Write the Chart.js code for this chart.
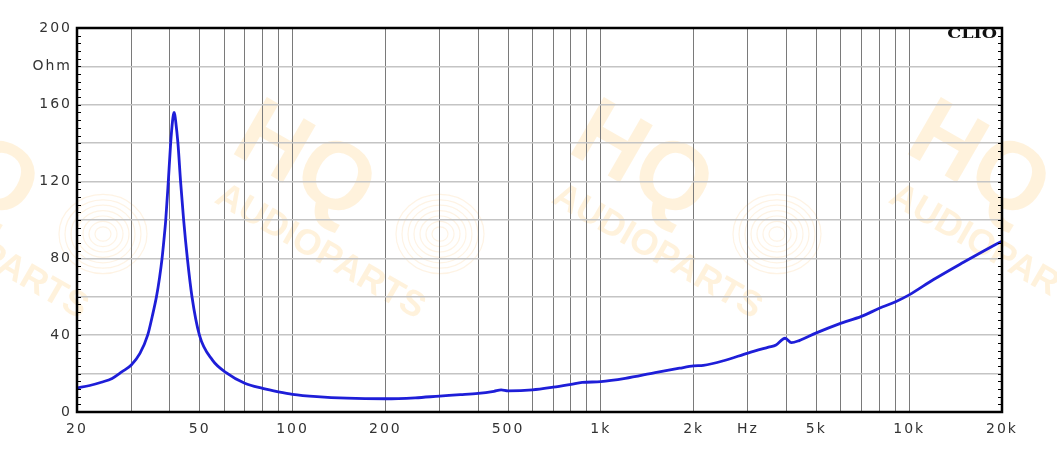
<!DOCTYPE html>
<html><head><meta charset="utf-8">
<script src="https://cdn.jsdelivr.net/npm/chart.js@4"></script>
<style>html,body{margin:0;padding:0;background:#fff}#wrap{width:1057px;height:461px;position:relative}</style>
</head><body><div id="wrap"><canvas id="c" width="1057" height="461"></canvas></div>
<script>
// ---- data ----
const freqHz = [20,22,24,26,28,30,32,33.9,35.1,36.2,37.05,37.75,38.3,38.8,39.55,40.25,40.85,41.1,41.3,41.5,41.75,42.5,43.35,44.35,45.6,47.2,49.9,55,60.9,70,80,90,100,120,150,200,250,300,350,400,450,475,500,600,700,800,870,1000,1200,1500,1800,2000,2150,2500,3000,3500,3700,3960,4150,4400,5000,5900,7000,8000,9000,10000,12000,15000,17500,20000];
const impedanceOhm = [12.5,13.8,15.5,17.5,21,24.5,30.5,40,50,60,70,80,90,100,120,140,152,155,156,155,152,140,120,100,80,60,40,27,20.5,15,12.3,10.5,9.2,8,7.2,6.9,7.4,8.3,9,9.7,10.8,11.5,11.0,11.5,12.9,14.4,15.4,15.8,17.5,20.5,22.8,24,24.3,26.7,30.7,33.8,34.9,38.4,36.1,37.2,41.2,45.8,49.8,54,57.3,61,69,78,84,89];
const xGridHz = [20,30,40,50,60,70,80,90,100,200,300,400,500,600,700,800,900,1000,2000,3000,4000,5000,6000,7000,8000,9000,10000,20000];
const xTickLabels = {20:'20',50:'50',100:'100',200:'200',500:'500',1000:'1k',2000:'2k',3000:'Hz',5000:'5k',10000:'10k',20000:'20k'};
const yGridOhm = [0,20,40,60,80,100,120,140,160,180,200];
const yTickLabels = {0:'0',40:'40',80:'80',120:'120',160:'160',180:'Ohm',200:'200'};
const brandText = 'CLIO';
const watermarkTop = 'HQ';
const watermarkBottom = 'AUDIOPARTS';

const points = freqHz.map((f,i)=>({x:f,y:impedanceOhm[i]}));

const watermarkPlugin = {
  id:'watermark',
  beforeDraw(chart){
    const ctx = chart.ctx;
    ctx.save();
    const ang = 30*Math.PI/180;
    for (let k=0;k<4;k++){
      const cx = -17 + 337*k, cy = 252;
      ctx.strokeStyle = 'rgba(250,200,130,0.22)';
      ctx.lineWidth = 1.2;
      for (let r=8;r<=46;r+=6){
        ctx.beginPath();
        ctx.ellipse(cx+120, cy-18, r, r*0.9, 0, 0, Math.PI*2);
        ctx.stroke();
      }
      ctx.save();
      ctx.translate(cx, cy);
      ctx.rotate(ang);
      ctx.fillStyle = 'rgba(253,200,110,0.24)';
      ctx.textAlign = 'center';
      ctx.textBaseline = 'middle';
      ctx.font = 'bold 36px "Liberation Sans", Arial, sans-serif';
      ctx.fillText(watermarkBottom, 0, 0);
      ctx.font = 'bold 96px "Liberation Sans", Arial, sans-serif';
      ctx.fillText(watermarkTop, -58, -68);
      ctx.restore();
    }
    ctx.restore();
    try { ctx.letterSpacing = '2px'; } catch(e){}
  }
};

const framePlugin = {
  id:'frame',
  afterDraw(chart){
    const ctx = chart.ctx, a = chart.chartArea, y = chart.scales.y;
    ctx.save();
    try { ctx.letterSpacing = '0px'; } catch(e){}
    ctx.strokeStyle = '#000';
    ctx.lineWidth = 1;
    for (let v=0; v<=200; v+=4){
      const py = Math.round(y.getPixelForValue(v))+0.5;
      ctx.beginPath();
      ctx.moveTo(a.left, py); ctx.lineTo(a.left+4, py);
      ctx.moveTo(a.right, py); ctx.lineTo(a.right-4, py);
      ctx.stroke();
    }
    ctx.lineWidth = 2.5;
    ctx.strokeRect(a.left, a.top, a.right-a.left, a.bottom-a.top);
    ctx.save();
    ctx.translate(a.right-5, a.top+7);
    ctx.scale(1.35,1);
    ctx.fillStyle = '#111';
    ctx.font = 'bold 13px "DejaVu Serif", "Liberation Serif", serif';
    ctx.textAlign = 'right';
    ctx.textBaseline = 'middle';
    ctx.fillText(brandText, 0, 0);
    ctx.restore();
    ctx.restore();
  }
};

new Chart(document.getElementById('c'), {
  type:'line',
  data:{datasets:[{
    data: points,
    borderColor:'#1e1ed8',
    borderWidth:2.8,
    pointRadius:0,
    fill:false,
    cubicInterpolationMode:'monotone'
  }]},
  options:{
    responsive:false,
    animation:false,
    devicePixelRatio:1,
    layout:{padding:{left:0,right:55,top:28,bottom:0}},
    plugins:{legend:{display:false},tooltip:{enabled:false}},
    scales:{
      x:{
        type:'logarithmic', min:20, max:20000,
        afterBuildTicks(s){ s.ticks = xGridHz.map(v=>({value:v})); },
        afterFit(s){ s.height = 49; },
        ticks:{
          autoSkip:false, maxRotation:0, minRotation:0, padding:9,
          color:'#333', font:{family:'"DejaVu Sans", Verdana, sans-serif', size:14},
          callback(v){ return xTickLabels[v] ?? ''; }
        },
        grid:{color:'#7a7a7a', lineWidth:1, drawTicks:false},
        border:{display:false}
      },
      y:{
        min:0, max:200,
        afterBuildTicks(s){ s.ticks = yGridOhm.map(v=>({value:v})); },
        afterFit(s){ s.width = 77; },
        ticks:{
          padding:5, color:'#333', font:{family:'"DejaVu Sans", Verdana, sans-serif', size:14},
          callback(v){ return yTickLabels[v] ?? ''; }
        },
        grid:{color:'#c4c4c4', lineWidth:1.5, drawTicks:false},
        border:{display:false}
      }
    }
  },
  plugins:[watermarkPlugin, framePlugin]
});
</script></body></html>
